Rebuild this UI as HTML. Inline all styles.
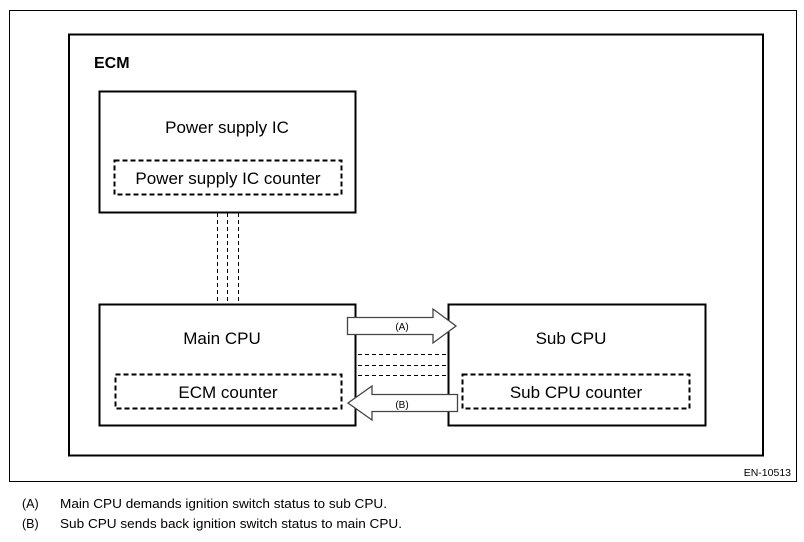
<!DOCTYPE html>
<html><head><style>
body{margin:0;background:#fff;}
svg{display:block;}
text{font-family:"Liberation Sans",Arial,sans-serif;fill:#000;}
</style></head><body>
<svg width="804" height="542" viewBox="0 0 804 542">
<rect x="9.5" y="10.5" width="787" height="471" fill="none" stroke="#000" stroke-width="1"/>
<rect x="69" y="34.5" width="694" height="421" fill="none" stroke="#000" stroke-width="2"/>
<text x="94" y="68" font-size="16" font-weight="bold">ECM</text>
<rect x="99.5" y="91.5" width="256" height="121" fill="none" stroke="#000" stroke-width="2"/>
<text x="227" y="133" font-size="17" text-anchor="middle">Power supply IC</text>
<rect x="114.5" y="160.5" width="227" height="34" fill="none" stroke="#000" stroke-width="2" stroke-dasharray="5,3"/>
<text x="228" y="184" font-size="17" text-anchor="middle">Power supply IC counter</text>
<g stroke="#000" stroke-width="1" stroke-dasharray="4,3">
<line x1="217.5" y1="213" x2="217.5" y2="304"/>
<line x1="227.5" y1="213" x2="227.5" y2="304"/>
<line x1="238.5" y1="213" x2="238.5" y2="304"/>
<line x1="358" y1="354.5" x2="447" y2="354.5"/>
<line x1="358" y1="365.5" x2="447" y2="365.5"/>
<line x1="358" y1="375.5" x2="447" y2="375.5"/>
</g>
<rect x="99.5" y="304.5" width="256" height="121" fill="none" stroke="#000" stroke-width="2"/>
<text x="222" y="344" font-size="17" text-anchor="middle">Main CPU</text>
<rect x="115.5" y="374.5" width="226" height="34" fill="none" stroke="#000" stroke-width="2" stroke-dasharray="5,3"/>
<text x="228" y="398" font-size="17" text-anchor="middle">ECM counter</text>
<rect x="448.5" y="304.5" width="257" height="121" fill="none" stroke="#000" stroke-width="2"/>
<text x="571" y="344" font-size="17" text-anchor="middle">Sub CPU</text>
<rect x="462.5" y="374.5" width="227" height="34" fill="none" stroke="#000" stroke-width="2" stroke-dasharray="5,3"/>
<text x="576" y="398" font-size="17" text-anchor="middle">Sub CPU counter</text>
<polygon points="347.5,317.5 433,317.5 433,309 456,326 433,343 433,334.5 347.5,334.5" fill="#fff" stroke="#444" stroke-width="1.3"/>
<text x="402" y="330" font-size="10" text-anchor="middle">(A)</text>
<polygon points="457.5,394.5 372,394.5 372,386 348,403 372,420 372,411.5 457.5,411.5" fill="#fff" stroke="#444" stroke-width="1.3"/>
<text x="402" y="408" font-size="10" text-anchor="middle">(B)</text>
<text x="791" y="476" font-size="10.5" text-anchor="end">EN-10513</text>
<text x="22" y="508" font-size="12.5">(A)</text>
<text x="60" y="508" font-size="12.5" textLength="327" lengthAdjust="spacingAndGlyphs">Main CPU demands ignition switch status to sub CPU.</text>
<text x="22" y="528" font-size="12.5">(B)</text>
<text x="60" y="528" font-size="12.5" textLength="342" lengthAdjust="spacingAndGlyphs">Sub CPU sends back ignition switch status to main CPU.</text>
</svg>
</body></html>
